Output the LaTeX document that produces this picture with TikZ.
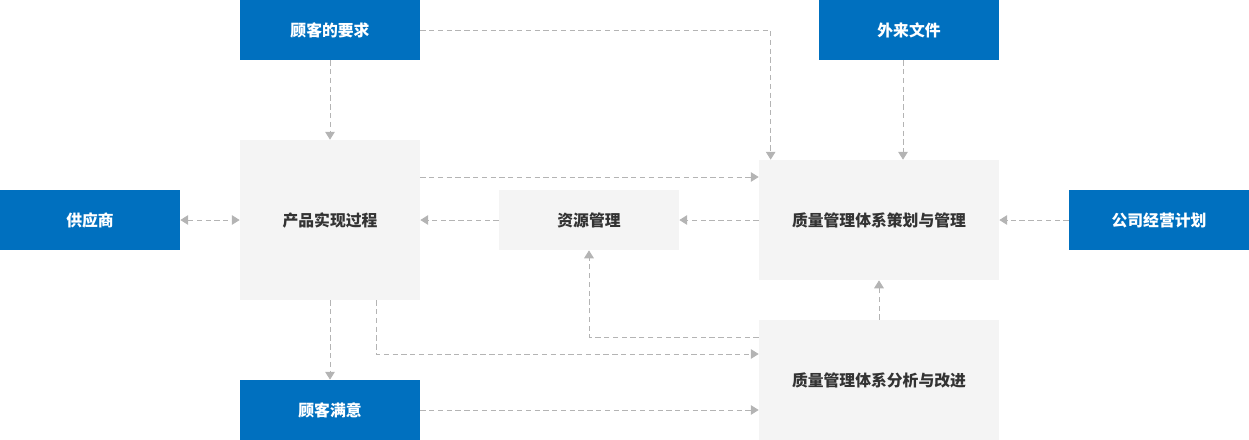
\documentclass[tikz,border=0pt]{standalone}
\usepackage{fontspec}
\setmainfont{Noto Sans CJK SC}
\usetikzlibrary{calc,arrows.meta}
\definecolor{boxblue}{HTML}{0070BF}
\definecolor{boxgrey}{HTML}{F4F4F4}
\definecolor{lineg}{HTML}{B4B4B4}
\definecolor{textg}{HTML}{333333}
\tikzset{
  blue box/.style={fill=boxblue, text=white, minimum width=3.6cm, minimum height=1.2cm, inner sep=0pt, font=\bfseries\fontsize{9}{11}\selectfont},
  grey box/.style={fill=boxgrey, text=textg, inner sep=0pt, font=\bfseries\fontsize{9}{11}\selectfont},
  link/.style={draw=lineg, dashed, dash pattern=on 3pt off 2pt, line width=0.5pt, -{Triangle[width=5.5pt,length=4.5pt]}}
}

\begin{document}
\begin{tikzpicture}[x=0.02cm, y=-0.02cm]
\useasboundingbox (0,0) rectangle (1249,440);
\node[blue box] (cust) at (330, 30) {顾客的要求};
\node[blue box] (ext) at (909, 30) {外来文件};
\node[grey box, minimum width=3.6cm, minimum height=3.2cm] (prod) at (330, 220) {产品实现过程};
\node[blue box] (sup) at (90, 220) {供应商};
\node[grey box, minimum width=3.6cm, minimum height=1.2cm] (res) at (589, 220) {资源管理};
\node[grey box, minimum width=4.8cm, minimum height=2.4cm] (plan) at (879, 220) {质量管理体系策划与管理};
\node[blue box] (comp) at (1159, 220) {公司经营计划};
\node[blue box] (sat) at (330, 410) {顾客满意};
\node[grey box, minimum width=4.8cm, minimum height=2.4cm] (impr) at (879, 380) {质量管理体系分析与改进};
% top inputs
\draw[link] (cust.south) -- (prod.north);
\draw[link] (cust.east) -| ($(plan.north west)+(12,0)$);
\draw[link] (ext.south -| 903,0) -- (plan.north -| 903,0);
% middle row
\draw[link] ($(prod.east)+(0,-43)$) -- ($(plan.west)+(0,-43)$);
\draw[link, {Triangle[width=5.5pt,length=4.5pt]}-{Triangle[width=5.5pt,length=4.5pt]}] (sup.east) -- (prod.west);
\draw[link] (res.west) -- (prod.east);
\draw[link] (plan.west) -- (res.east);
\draw[link] (comp.west) -- (plan.east);
% improvement loop
\draw[link] (impr.north) -- (plan.south);
\draw[link] ($(impr.west)+(0,-43)$) -| (res.south);
\draw[link] ($(prod.south)+(46,0)$) |- ($(impr.west)+(0,-26)$);
% outputs
\draw[link] (prod.south) -- (sat.north);
\draw[link] (sat.east) -- (sat.east -| impr.west);
\end{tikzpicture}
\end{document}
